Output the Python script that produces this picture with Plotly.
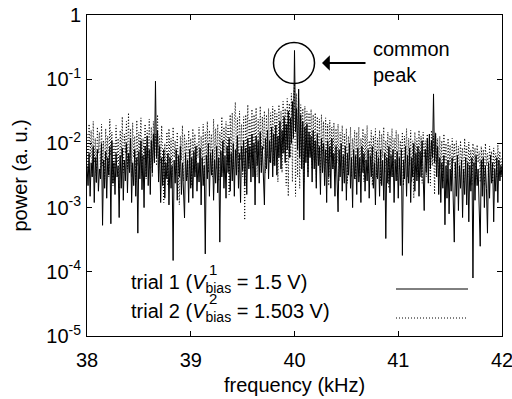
import math
import plotly.graph_objects as go

# ---------------- data ----------------
freq_start_khz = 38.0
freq_step_khz = 0.01
n_points = 401
frequency_khz = [round(freq_start_khz + freq_step_khz * i, 2) for i in range(n_points)]

# trial 1 (V1_bias = 1.5 V), solid line; one row = 0.2 kHz
trial1_power = [
    4.5e-3, 2.2e-3, 7e-3, 1.5e-3, 5e-3, 3e-3, 9e-3, 1.2e-3, 6e-3, 2.5e-3, 8e-3, 1.8e-3, 4e-3, 2.8e-3, 1e-2, 5.3e-4, 5.5e-3, 2e-3, 7.5e-3, 1.4e-3,
    6e-3, 3.2e-3, 9e-3, 5.6e-4, 1.1e-2, 2.4e-3, 5e-3, 1.6e-3, 7e-3, 3e-3, 4.5e-3, 7e-4, 6.5e-3, 2e-3, 8.5e-3, 1.3e-3, 5.5e-3, 2.6e-3, 1e-2, 1.7e-3,
    7e-3, 3.5e-3, 1.2e-2, 1.2e-3, 5e-3, 2.2e-3, 8e-3, 1.5e-3, 6e-3, 4e-4, 7.5e-3, 2.8e-3, 1.1e-2, 1.9e-3, 6.5e-3, 1e-3, 9e-3, 3e-3, 1.3e-2, 2.2e-3,
    8e-3, 1.6e-3, 1.1e-2, 3.5e-3, 1.4e-2, 5e-3, 9.3e-2, 6e-3, 1.6e-2, 2.5e-3, 9e-3, 1.2e-3, 6e-3, 2.2e-3, 8e-3, 1.4e-3, 5e-3, 2.8e-3, 7e-3, 1.1e-3,
    6e-3, 2e-3, 4.5e-3, 1.5e-4, 5.5e-3, 2.4e-3, 8e-3, 1.3e-3, 6.5e-3, 3e-3, 9e-3, 1.6e-3, 5e-3, 2.2e-3, 6.9e-4, 7e-3, 2.6e-3, 5.5e-3, 1.2e-3, 8e-3,
    2e-3, 6e-3, 1.4e-3, 7.5e-3, 3e-3, 9e-3, 1.8e-3, 5e-3, 2.5e-3, 8.5e-3, 1.1e-3, 6e-3, 2.2e-3, 4.5e-3, 1.9e-4, 6.5e-3, 2.8e-3, 1e-2, 1.5e-3, 7e-3,
    3.2e-3, 8e-3, 1.3e-3, 5.5e-3, 2.4e-3, 9e-3, 1.7e-3, 6e-3, 2.9e-4, 7.5e-3, 3e-3, 1.1e-2, 2e-3, 6.5e-3, 1.4e-3, 9e-3, 3.5e-3, 1.2e-2, 1.8e-3, 7e-3,
    2.6e-3, 1e-2, 1.5e-3, 8e-3, 3.2e-3, 1.3e-2, 2e-3, 7e-3, 1.2e-3, 9e-3, 3.8e-3, 1.1e-2, 2.2e-3, 8.5e-3, 1.6e-3, 1.2e-2, 4e-3, 9e-3, 2.5e-3, 1.4e-2,
    3e-3, 1e-2, 1.1e-3, 1.3e-2, 4.5e-3, 1.1e-2, 2.4e-3, 1.5e-2, 3.5e-3, 9e-3, 2e-3, 1.1e-3, 1.2e-2, 4e-3, 1.6e-2, 2.8e-3, 1.1e-2, 5e-3, 1.8e-2, 3e-3,
    1.4e-2, 4.5e-3, 1.9e-2, 3.2e-3, 1.3e-2, 6e-3, 2.2e-2, 4e-3, 1.6e-2, 7e-3, 2.6e-2, 5e-3, 2e-2, 8e-3, 3.2e-2, 6e-3, 2.5e-2, 1e-2, 4.5e-2, 1.2e-2,
    2.8e-1, 1.5e-2, 3.5e-2, 8e-3, 7e-2, 6e-3, 2.8e-2, 4e-3, 2.2e-2, 6.4e-4, 1.8e-2, 5e-3, 2e-2, 3e-3, 1.5e-2, 6e-3, 1.3e-2, 2.5e-3, 1.6e-2, 4e-3,
    1.1e-2, 2e-3, 1.4e-2, 4.5e-3, 9e-3, 1.6e-3, 1.2e-2, 3.5e-3, 1e-2, 2.2e-3, 8e-3, 1.2e-3, 1.1e-2, 3e-3, 9e-3, 2e-3, 1.2e-2, 4e-3, 7e-3, 1.5e-3,
    9e-3, 2.6e-3, 8.6e-4, 8e-3, 3e-3, 1e-2, 1.8e-3, 6.5e-3, 2.4e-3, 9e-3, 1.3e-3, 7e-3, 3.2e-3, 1e-2, 2e-3, 6e-3, 1e-3, 8e-3, 2.8e-3, 6.5e-3,
    1.6e-3, 8.5e-3, 2.5e-3, 6e-3, 1.2e-3, 9e-3, 3.5e-3, 7e-3, 1.8e-3, 5.5e-3, 2.6e-3, 8e-3, 1.4e-3, 6.5e-3, 3e-3, 9e-3, 2e-3, 5e-3, 1.1e-3, 7.5e-3,
    2.8e-3, 6e-3, 1.5e-3, 8e-3, 2.2e-3, 5.5e-3, 1.3e-3, 7e-3, 3.3e-4, 6e-3, 2.4e-3, 9e-3, 1.7e-3, 6.5e-3, 3e-3, 8e-3, 1.2e-3, 5.5e-3, 2.6e-3, 7.5e-3,
    1.4e-3, 6e-3, 2.2e-3, 8e-3, 1.8e-4, 5.5e-3, 2.8e-3, 9e-3, 1.5e-3, 6.5e-3, 2.4e-3, 8.5e-3, 1.2e-3, 6e-3, 3e-3, 1e-2, 1.8e-3, 7e-3, 2.6e-3, 9e-3,
    1.5e-3, 7.5e-3, 3e-3, 1.1e-2, 2e-3, 9e-4, 8e-3, 3.5e-3, 1.2e-2, 2.4e-3, 1.4e-2, 4e-3, 1.1e-2, 6e-3, 5.9e-2, 5e-3, 1.4e-2, 3e-3, 9e-3, 1.6e-3,
    6e-3, 1.2e-3, 5e-3, 2e-3, 6.5e-3, 5.4e-4, 4.5e-3, 1.4e-3, 5.5e-3, 8e-4, 4e-3, 1.8e-3, 6e-3, 1e-3, 2.9e-4, 5e-3, 1.5e-3, 6.5e-3, 9e-4, 4.5e-3,
    2e-3, 5.5e-3, 7e-4, 4e-3, 1.6e-3, 6e-3, 1.1e-3, 5e-3, 6e-4, 4.5e-3, 1.8e-3, 6e-3, 8e-5, 5e-3, 1.3e-3, 6.5e-3, 2.2e-3, 4e-3, 9e-4, 2.5e-4,
    5.5e-3, 1.5e-3, 6e-3, 1e-3, 4.5e-3, 2e-3, 4e-4, 5e-3, 1.4e-3, 6.5e-3, 2.4e-3, 5e-3, 6e-4, 4e-3, 1.8e-3, 6e-3, 1.2e-3, 5.5e-3, 2.6e-3, 4.5e-3,
    3e-3,
]

# trial 2 (V2_bias = 1.503 V), dotted line; one row = 0.2 kHz
trial2_power = [
    1.4e-2, 4e-3, 2e-2, 6e-3, 1.6e-2, 3e-3, 2.2e-2, 5e-3, 1.2e-2, 2.4e-3, 1.8e-2, 7e-3, 1.5e-2, 3.5e-3, 2e-2, 4.5e-3, 1.1e-2, 2.8e-3, 1.7e-2, 5.5e-3,
    1.3e-2, 3e-3, 2.4e-2, 6.5e-3, 1.5e-2, 2.2e-3, 1e-2, 4e-3, 1.9e-2, 5e-3, 1.2e-2, 2e-3, 1.6e-2, 6e-3, 2.6e-2, 3.5e-3, 1.4e-2, 7e-3, 2.2e-2, 4e-3,
    3e-2, 5e-3, 1.7e-2, 3e-3, 2.1e-2, 6e-3, 1.3e-2, 2.5e-3, 2.3e-2, 4.5e-3, 1.5e-2, 7e-3, 2.5e-2, 3.2e-3, 1.2e-2, 5.5e-3, 2e-2, 2.8e-3, 1.6e-2, 6e-3,
    2.4e-2, 4e-3, 1.8e-2, 3e-3, 2.2e-2, 7e-3, 1.4e-2, 4.5e-3, 2.8e-2, 3.5e-3, 1.3e-2, 5e-3, 1.9e-2, 2.5e-3, 1.2e-3, 1e-2, 4e-3, 1.5e-2, 2.2e-3, 1.7e-2,
    5e-3, 1.2e-2, 3e-3, 1.8e-2, 6e-3, 1.1e-2, 3.5e-3, 1.5e-2, 4.5e-3, 1.1e-3, 1.3e-2, 5.5e-3, 1.9e-2, 2.6e-3, 1.4e-2, 6e-3, 1.1e-2, 3e-3, 1.6e-2, 4e-3,
    1.2e-2, 2.2e-3, 1.7e-2, 5e-3, 1.4e-2, 3.5e-3, 1e-2, 6e-3, 1.8e-2, 3e-3, 1.3e-2, 4.5e-3, 2e-2, 2.5e-3, 1.5e-2, 5.5e-3, 2.2e-2, 3.5e-3, 1.6e-2, 7e-3,
    1.4e-2, 3e-3, 2.4e-2, 5e-3, 1.7e-2, 4e-3, 2e-2, 2.6e-3, 1.5e-2, 6.5e-3, 2.6e-2, 3.5e-3, 1.8e-2, 7e-3, 2.2e-2, 4.5e-3, 1.9e-2, 1.6e-3, 2.8e-2, 5e-3,
    3e-2, 4e-3, 2.2e-2, 4.4e-2, 6e-3, 2.5e-2, 3.5e-3, 3.2e-2, 5.5e-3, 2e-2, 3e-3, 2.6e-2, 6.4e-4, 2.8e-2, 7e-3, 4e-2, 4.5e-3, 2.4e-2, 6e-3, 3.4e-2,
    4e-3, 2.8e-2, 7e-3, 3.6e-2, 3e-3, 2.4e-2, 6.5e-3, 3.8e-2, 4.5e-3, 2.6e-2, 8e-3, 3.2e-2, 3.5e-3, 2.8e-2, 6e-3, 3.5e-2, 5e-3, 3e-2, 7.5e-3, 3.8e-2,
    4.5e-3, 3.4e-2, 8e-3, 2.9e-2, 2.5e-3, 4e-2, 6e-3, 3.2e-2, 3.5e-3, 4.5e-2, 7e-3, 3.5e-2, 2.2e-3, 5e-2, 1.5e-3, 4.2e-2, 6e-3, 6e-2, 2.5e-3, 5.5e-2,
    8.5e-2, 1.5e-3, 6e-2, 3e-3, 5e-2, 2e-3, 4e-2, 5e-3, 3.5e-2, 2.5e-3, 3.8e-2, 6e-3, 3.2e-2, 3.5e-3, 3e-2, 7e-3, 3.4e-2, 4e-3, 2.8e-2, 5.5e-3,
    3e-2, 2.5e-3, 2.6e-2, 6e-3, 2.4e-2, 3.5e-3, 2.8e-2, 7e-3, 2.2e-2, 3e-3, 2.5e-2, 5e-3, 2e-2, 2.2e-3, 2.3e-2, 6e-3, 1.8e-2, 4e-3, 2.1e-2, 3e-3,
    1.7e-2, 5e-3, 2e-2, 2.6e-3, 1.5e-2, 6e-3, 1.9e-2, 3.5e-3, 1.4e-2, 4.5e-3, 1.7e-2, 2.4e-3, 1.3e-2, 5.5e-3, 1.8e-2, 3e-3, 1.2e-2, 6e-3, 1.6e-2, 2.8e-3,
    1.5e-2, 4.5e-3, 1.8e-2, 3e-3, 1.2e-2, 6e-3, 1.7e-2, 2.5e-3, 1.4e-2, 5e-3, 1.9e-2, 3.5e-3, 1.1e-2, 6.5e-3, 1.6e-2, 2.2e-3, 1.3e-2, 5e-3, 1.7e-2, 3e-3,
    1.2e-2, 5.5e-3, 1.6e-2, 2.4e-3, 1.4e-2, 6e-3, 1.8e-2, 3.5e-3, 1.1e-2, 4.5e-3, 1.5e-2, 2e-3, 1.3e-2, 6e-3, 1.7e-2, 3e-3, 1.2e-2, 5e-3, 1.6e-2, 2.6e-3,
    1.4e-2, 4e-3, 1.1e-2, 6e-3, 1.5e-2, 2.2e-3, 1.3e-2, 5e-3, 1.7e-2, 3e-3, 1.2e-2, 4.5e-3, 1.6e-2, 2.5e-3, 1.1e-2, 1.4e-3, 1.5e-2, 5.5e-3, 1.2e-2, 3e-3,
    1.6e-2, 4e-3, 1.3e-2, 2.4e-3, 1.5e-2, 6e-3, 1.1e-2, 3e-3, 1.4e-2, 5e-3, 1.2e-2, 2.2e-3, 1.6e-2, 4.5e-3, 1.3e-2, 1.6e-3, 1.5e-2, 5e-3, 1.2e-2, 3e-3,
    1.3e-2, 4e-3, 1.1e-2, 2.5e-3, 1.4e-2, 5e-3, 1e-2, 3e-3, 1.2e-2, 4.5e-3, 9.5e-3, 2.2e-3, 1.2e-2, 5e-3, 1e-2, 2.8e-3, 1.1e-2, 4e-3, 9e-3, 3e-3,
    1.1e-2, 4.5e-3, 8.5e-3, 2.4e-3, 1.2e-2, 5e-3, 9e-3, 3e-3, 1.05e-2, 4e-3, 8e-3, 2.2e-3, 1e-2, 4.5e-3, 8.5e-3, 2.8e-3, 9.5e-3, 5e-3, 7.5e-3, 2.5e-3,
    9e-3, 4e-3, 8e-3, 2.2e-3, 1e-2, 4.5e-3, 7e-3, 3e-3, 9e-3, 5e-3, 7.5e-3, 2.5e-3, 8.5e-3, 4e-3, 7e-3, 3e-3, 9.5e-3, 4.5e-3, 7.5e-3, 3e-3,
    6e-3,
]

x_tick_values = [38, 39, 40, 41, 42]
x_tick_labels = ["38", "39", "40", "41", "42"]
y_tick_values = [1e-5, 1e-4, 1e-3, 1e-2, 1e-1, 1]
y_tick_labels = ["10<sup>-5</sup>", "10<sup>-4</sup>", "10<sup>-3</sup>",
                 "10<sup>-2</sup>", "10<sup>-1</sup>", "1"]

trial1_label = ("trial 1 (<i>V</i><sub>bias</sub> = 1.5 V)", "1")
trial2_label = ("trial 2 (<i>V</i><sub>bias</sub> = 1.503 V)", "2")

# ---------------- layout helpers ----------------
W, H = 512, 399
PL, PR, PT, PB = 87, 502, 15, 336
FONT = "Liberation Sans, Arial, Helvetica, sans-serif"
X_RANGE = (38, 42)
Y_LOG_RANGE = (-5, 0)


def pxx(px):
    return (px - PL) / (PR - PL)


def pxy(py):
    return (PB - py) / (PB - PT)


def data_x_from_px(px):
    return X_RANGE[0] + (px - PL) / (PR - PL) * (X_RANGE[1] - X_RANGE[0])


def log_y_from_px(py):
    return Y_LOG_RANGE[1] - (py - PT) / (PB - PT) * (Y_LOG_RANGE[1] - Y_LOG_RANGE[0])


fig = go.Figure()
fig.add_trace(go.Scatter(x=frequency_khz, y=trial1_power, mode="lines",
                         line=dict(color="black", width=1),
                         showlegend=False, hoverinfo="skip"))
fig.add_trace(go.Scatter(x=frequency_khz, y=trial2_power, mode="lines",
                         line=dict(color="black", width=1, dash="1px,2px"),
                         showlegend=False, hoverinfo="skip"))

axis_common = dict(showline=True, linecolor="black", linewidth=1, mirror="ticks",
                   ticks="inside", ticklen=5, tickwidth=1, tickcolor="black",
                   showgrid=False, zeroline=False, ticklabeloverflow="allow",
                   automargin=False,
                   tickfont=dict(family=FONT, size=20, color="black"))

fig.update_xaxes(range=list(X_RANGE), tickvals=x_tick_values, ticktext=x_tick_labels,
                 ticklabelstandoff=6, **axis_common)
fig.update_yaxes(type="log", range=list(Y_LOG_RANGE), tickvals=y_tick_values,
                 ticktext=y_tick_labels, ticklabelstandoff=1, **axis_common)

annotations = []
# axis titles
annotations.append(dict(text="frequency (kHz)", xref="paper", yref="paper",
                        x=0.5, y=pxy(385), xanchor="center", yanchor="middle",
                        showarrow=False, font=dict(family=FONT, size=20, color="black")))
annotations.append(dict(text="power (a. u.)", xref="paper", yref="paper",
                        x=pxx(19), y=0.5, xanchor="center", yanchor="middle",
                        textangle=-90, showarrow=False,
                        font=dict(family=FONT, size=20, color="black")))
# legend texts
for (txt, sup), base_y, sup_y in [(trial1_label, 283, 269), (trial2_label, 312, 298)]:
    annotations.append(dict(text=txt, xref="paper", yref="paper", x=pxx(129), y=pxy(base_y),
                            xanchor="left", yanchor="middle", showarrow=False,
                            font=dict(family=FONT, size=20, color="black")))
    annotations.append(dict(text=sup, xref="paper", yref="paper", x=pxx(207), y=pxy(sup_y),
                            xanchor="left", yanchor="middle", showarrow=False,
                            font=dict(family=FONT, size=15, color="black")))
# arrow and label
annotations.append(dict(text="", x=data_x_from_px(322), y=log_y_from_px(63),
                        xref="x", yref="y", showarrow=True, ax=45, ay=0,
                        arrowhead=1, arrowsize=1.3, arrowwidth=2, arrowcolor="black",
                        standoff=0))
annotations.append(dict(text="common<br>peak", xref="paper", yref="paper",
                        x=pxx(371), y=pxy(62), xanchor="left", yanchor="middle",
                        align="left", showarrow=False,
                        font=dict(family=FONT, size=20, color="black")))

circle_cx, circle_cy, circle_r = 294, 63, 20.5
shapes = [
    dict(type="circle", xref="x", yref="y",
         x0=data_x_from_px(circle_cx - circle_r), x1=data_x_from_px(circle_cx + circle_r),
         y0=10 ** log_y_from_px(circle_cy + circle_r), y1=10 ** log_y_from_px(circle_cy - circle_r),
         line=dict(color="black", width=1.5)),
    dict(type="line", xref="paper", yref="paper", x0=pxx(396), x1=pxx(468),
         y0=pxy(289), y1=pxy(289), line=dict(color="black", width=1)),
    dict(type="line", xref="paper", yref="paper", x0=pxx(396), x1=pxx(468),
         y0=pxy(318), y1=pxy(318), line=dict(color="black", width=1, dash="1px,2px")),
]

fig.update_layout(width=W, height=H, margin=dict(l=PL, r=W - PR, t=PT, b=H - PB),
                  paper_bgcolor="white", plot_bgcolor="white",
                  annotations=annotations, shapes=shapes,
                  font=dict(family=FONT, size=20, color="black"))

fig.write_html("out.html")
